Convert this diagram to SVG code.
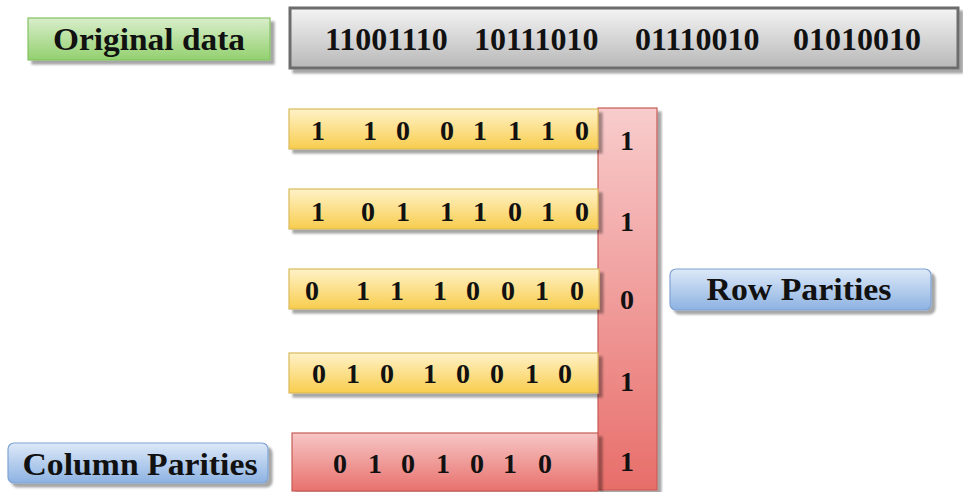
<svg xmlns="http://www.w3.org/2000/svg" width="963" height="492" viewBox="0 0 963 492" font-family="'Liberation Serif', 'DejaVu Serif', serif">
  <defs>
    <linearGradient id="gGreen" x1="0" y1="0" x2="0" y2="1">
      <stop offset="0" stop-color="#d9eecb"/>
      <stop offset="1" stop-color="#93d06f"/>
    </linearGradient>
    <linearGradient id="gGray" x1="0" y1="0" x2="0" y2="1">
      <stop offset="0" stop-color="#f4f4f4"/>
      <stop offset="1" stop-color="#b8b8b8"/>
    </linearGradient>
    <linearGradient id="gYellow" x1="0" y1="0" x2="0" y2="1">
      <stop offset="0" stop-color="#fff2c8"/>
      <stop offset="1" stop-color="#f8cd4e"/>
    </linearGradient>
    <linearGradient id="gRedV" x1="0" y1="0" x2="0" y2="1">
      <stop offset="0" stop-color="#f8cccc"/>
      <stop offset="1" stop-color="#e86e6a"/>
    </linearGradient>
    <linearGradient id="gRedH" x1="0" y1="0" x2="0" y2="1">
      <stop offset="0" stop-color="#f6c6c5"/>
      <stop offset="1" stop-color="#e8716d"/>
    </linearGradient>
    <linearGradient id="gBlue" x1="0" y1="0" x2="0" y2="1">
      <stop offset="0" stop-color="#dde9f8"/>
      <stop offset="1" stop-color="#8db2e2"/>
    </linearGradient>
    <filter id="shadow" x="-5%" y="-20%" width="115%" height="150%">
      <feDropShadow dx="4" dy="4" stdDeviation="1.2" flood-color="#000" flood-opacity="0.35"/>
    </filter>
  </defs>
  <style>
    text { font-family: 'Liberation Serif', 'DejaVu Serif', serif; font-weight: bold; fill: #111; }
    .lbl { font-size: 31px; text-anchor: middle; }
    .bits { font-size: 28px; text-anchor: middle; }
    .par { font-size: 28px; text-anchor: middle; }
    .yellow { fill: url(#gYellow); stroke: #d9b95c; stroke-width: 1.2; filter: url(#shadow); }
    .blue { fill: url(#gBlue); stroke: #7fa2d2; stroke-width: 1.2; filter: url(#shadow); }
  </style>

  <!-- label: original data -->
  <g id="original-label">
    <rect x="28" y="18" width="242" height="42" fill="url(#gGreen)" stroke="#84c264" stroke-width="1.2" filter="url(#shadow)"/>
    <text class="lbl" x="149" y="50" textLength="192" lengthAdjust="spacingAndGlyphs">Original data</text>
  </g>

  <!-- the four data bytes -->
  <g id="original-data">
    <rect x="290" y="8" width="668" height="60" fill="url(#gGray)" stroke="#6c6c6c" stroke-width="3" filter="url(#shadow)"/>
    <text style="font-size:32px"><tspan x="325" y="50">11001110</tspan> <tspan x="474" y="50">10111010</tspan> <tspan x="635" y="50">01110010</tspan> <tspan x="793" y="50">01010010</tspan></text>
  </g>

  <!-- row parity column -->
  <g id="row-parity-column">
    <rect x="598" y="108" width="59" height="382" fill="url(#gRedV)" stroke="#c65a57" stroke-width="1.2" filter="url(#shadow)"/>
    <text class="par" x="627" y="150">1</text>
    <text class="par" x="627" y="231">1</text>
    <text class="par" x="627" y="309">0</text>
    <text class="par" x="627" y="391">1</text>
    <text class="par" x="627" y="471">1</text>
  </g>

  <!-- data rows -->
  <g id="row-1">
    <rect class="yellow" x="289" y="109" width="309" height="40"/>
    <text class="bits" y="140" x="318 344 370 386 403 425 447 463 480 497 515 531 548 565 582">1 1 0 0 1 1 1 0</text>
  </g>
  <g id="row-2">
    <rect class="yellow" x="289" y="189" width="309" height="40"/>
    <text class="bits" y="221" x="318 343 368 385 403 425 447 463 480 497 515 531 548 565 582">1 0 1 1 1 0 1 0</text>
  </g>
  <g id="row-3">
    <rect class="yellow" x="289" y="269" width="310" height="40"/>
    <text class="bits" y="300" x="312 337 363 380 397 418 440 456 473 490 508 525 542 559 577">0 1 1 1 0 0 1 0</text>
  </g>
  <g id="row-4">
    <rect class="yellow" x="289" y="353" width="309" height="40"/>
    <text class="bits" y="383" x="319 336 353 370 387 408 430 446 463 480 497 514 532 548 565">0 1 0 1 0 0 1 0</text>
  </g>

  <!-- column parity row -->
  <g id="column-parity-row">
    <rect x="292" y="433" width="306" height="58" fill="url(#gRedH)" stroke="#c65a57" stroke-width="1.2" filter="url(#shadow)"/>
    <text class="bits" y="473" x="340 357 375 391 408 425 443 460 477 493 510 527 545">0 1 0 1 0 1 0</text>
  </g>

  <!-- side labels -->
  <g id="row-parities-label">
    <rect class="blue" x="670" y="269" width="261" height="41" rx="6"/>
    <text class="lbl" x="799" y="300" textLength="185" lengthAdjust="spacingAndGlyphs">Row Parities</text>
  </g>
  <g id="column-parities-label">
    <rect class="blue" x="8" y="443" width="260" height="40" rx="6"/>
    <text class="lbl" x="140" y="475" textLength="235" lengthAdjust="spacingAndGlyphs">Column Parities</text>
  </g>
</svg>
